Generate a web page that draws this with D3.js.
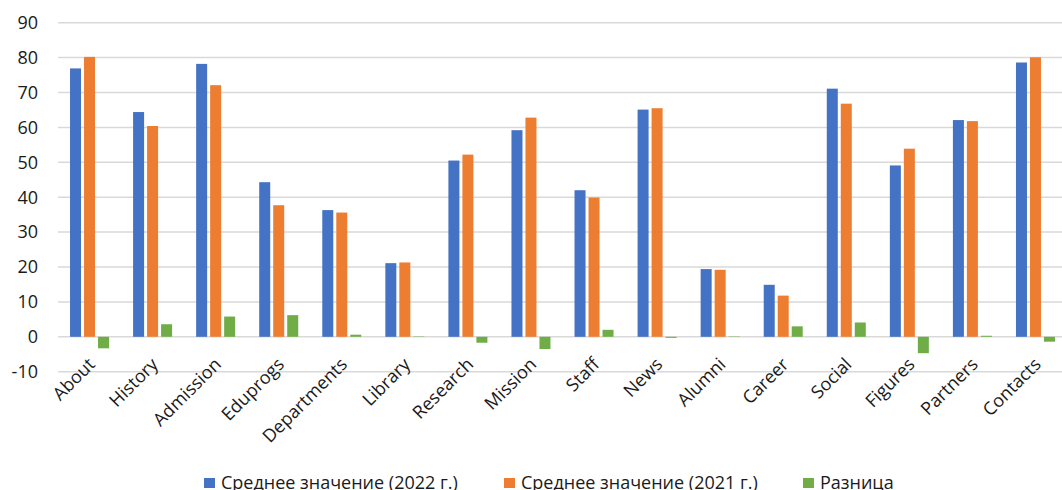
<!DOCTYPE html>
<html>
<head>
<meta charset="utf-8">
<script src="https://cdn.jsdelivr.net/npm/d3@7"></script>
<style>
  body { margin: 0; background: #fff; }
  svg { display: block; font-family: "Open Sans", "Noto Sans", sans-serif; }
</style>
</head>
<body>
<svg id="chart" width="1062" height="490"></svg>
<script>
var categories = ["About", "History", "Admission", "Eduprogs", "Departments", "Library", "Research",
    "Mission", "Staff", "News", "Alumni", "Career", "Social", "Figures", "Partners", "Contacts"];
var avg2022 = [76.9, 64.4, 78.2, 44.3, 36.3, 21.1, 50.5, 59.2, 42.0, 65.1, 19.4, 14.9, 71.1, 49.1, 62.1, 78.6];
var avg2021 = [80.2, 60.4, 72.1, 37.7, 35.6, 21.3, 52.2, 62.8, 39.9, 65.5, 19.2, 11.8, 66.8, 53.9, 61.8, 80.1];
var diff = [-3.3, 3.6, 5.8, 6.2, 0.6, 0.1, -1.7, -3.5, 2.0, -0.3, 0.1, 3.0, 4.1, -4.7, 0.3, -1.4];
var seriesNames = ["Среднее значение (2022 г.)", "Среднее значение (2021 г.)", "Разница"];
var seriesColors = ["#4472C4", "#ED7D31", "#70AD47"];
var yTicks = [-10, 0, 10, 20, 30, 40, 50, 60, 70, 80, 90];

var svg = d3.select("#chart");
var plotLeft = 58, plotRight = 1067, plotTop = 22.7, plotBottom = 371.7;

var x = d3.scaleBand().domain(categories).range([plotLeft, plotRight]);
var xs = d3.scaleBand().domain([0, 1, 2]).range([-21, 21]);
var y = d3.scaleLinear().domain([-10, 90]).range([plotBottom, plotTop]);

// gridlines
svg.append("g")
    .selectAll("line")
    .data(yTicks)
    .enter()
    .append("line")
    .attr("x1", plotLeft)
    .attr("x2", 1062)
    .attr("y1", d => y(d))
    .attr("y2", d => y(d))
    .attr("stroke", "#d9d9d9")
    .attr("stroke-width", 1.5);

svg.append("g")
    .selectAll("text")
    .data(yTicks)
    .enter()
    .append("text")
    .attr("x", 38)
    .attr("y", d => y(d))
    .attr("dy", "0.35em")
    .attr("text-anchor", "end")
    .attr("font-size", 18)
    .attr("fill", "#1a1a1a")
    .text(d => d);

var series = [avg2022, avg2021, diff];
series.forEach(function(vals, si) {
    svg.append("g")
        .selectAll("rect")
        .data(vals)
        .enter()
        .append("rect")
        .attr("x", (d, i) => x(categories[i]) + x.bandwidth() / 2 + xs(si) + 1.5)
        .attr("width", xs.bandwidth() - 3)
        .attr("y", d => y(Math.max(0, d)))
        .attr("height", d => Math.abs(y(d) - y(0)))
        .attr("fill", seriesColors[si]);
});

// category labels
svg.append("g")
    .selectAll("text")
    .data(categories)
    .enter()
    .append("text")
    .attr("transform", d => "translate(" + (x(d) + x.bandwidth() / 2 - 3) + "," + 356 + ") rotate(-45)")
    .attr("text-anchor", "end")
    .attr("dy", "0.75em")
    .attr("font-size", 18)
    .attr("fill", "#1a1a1a")
    .text(d => d);

// legend
var legendX = [204, 504, 803];
var lg = svg.append("g")
    .selectAll("g")
    .data(seriesNames)
    .enter()
    .append("g")
    .attr("transform", (d, i) => "translate(" + legendX[i] + ",478)");
lg.append("rect")
    .attr("width", 11)
    .attr("height", 10)
    .attr("fill", (d, i) => seriesColors[i]);
lg.append("text")
    .attr("x", 17)
    .attr("y", 11)
    .attr("font-size", 18)
    .attr("fill", "#1a1a1a")
    .text(d => d);
</script>
</body>
</html>
